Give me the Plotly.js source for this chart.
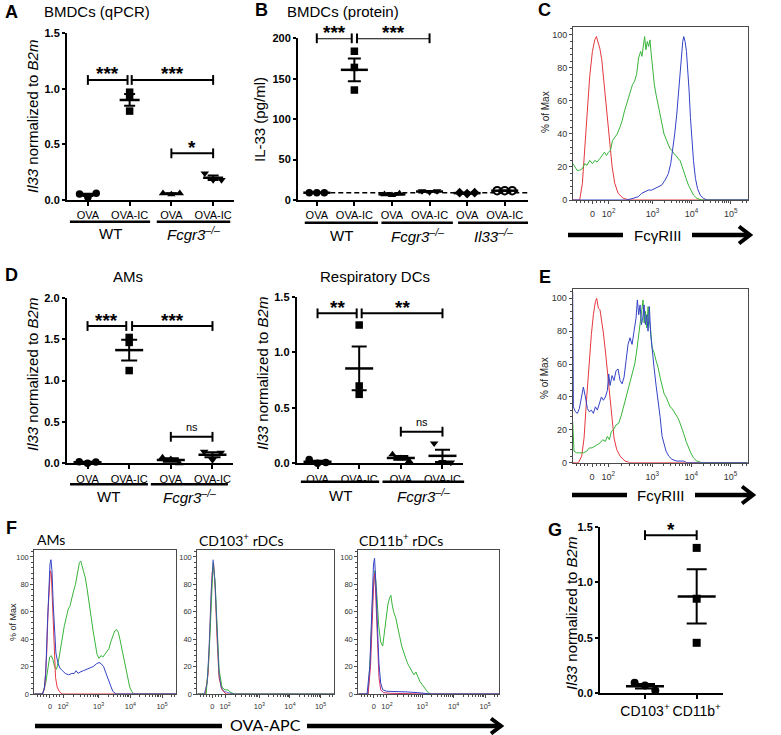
<!DOCTYPE html>
<html><head><meta charset="utf-8">
<script src="https://cdn.plot.ly/plotly-3.0.1.min.js"></script>
<style>html,body{margin:0;padding:0;background:#fff}#chart{width:781px;height:735px}</style>
</head><body><div id="chart"></div>
<script>
// ================= DATA =================
// Panel A – BMDCs (qPCR)
const catsA = ['OVA','OVA-IC','OVA','OVA-IC'];
const groupsA = ['WT','<i>Fcgr3<sup>–/–</sup></i>'];
const pointsA = [[0.055,0.025,0.06],[0.97,0.925,0.80],[0.06,0.05,0.06],[0.24,0.18,0.18]];
const meanA = [0.047,0.90,0.057,0.20];
const semA = [0.01,0.053,0.004,0.02];
const sigA = [[1,1.95,1.08,'***'],[2.05,4,1.08,'***'],[3,4,0.42,'*']];

// Panel B – BMDCs (protein)
const catsB = ['OVA','OVA-IC','OVA','OVA-IC','OVA','OVA-IC'];
const groupsB = ['WT','<i>Fcgr3<sup>–/–</sup></i>','<i>Il33<sup>–/–</sup></i>'];
const pointsB = [[9,9,9],[184,164,136],[7,6,8],[11,10,11],[9,8,9],[11.5,11.5,11.5]];
const meanB = [9,161,7,10.5,8.5,11.5];
const semB = [0.3,14,0.6,0.4,0.4,0.2];
const sigB = [[1,1.93,200,'***'],[2.07,4,200,'***']];
const baselineB = 9;

// Panel D – AMs
const catsD1 = ['OVA','OVA-IC','OVA','OVA-IC'];
const groupsD1 = ['WT','<i>Fcgr3<sup>–/–</sup></i>'];
const pointsD1 = [[0.02,0.0,0.015],[1.52,1.46,1.12],[0.07,0.05,0.0],[0.14,0.04,0.13]];
const meanD1 = [0.012,1.367,0.04,0.103];
const semD1 = [0.006,0.125,0.02,0.03];
const sigD1 = [[1,1.93,1.658,'***'],[2.07,4,1.658,'***'],[3,4,0.32,'ns']];

// Panel D – Respiratory DCs
const catsD2 = ['OVA','OVA-IC','OVA','OVA-IC'];
const groupsD2 = ['WT','<i>Fcgr3<sup>–/–</sup></i>'];
const pointsD2 = [[0.035,0.0,0.008],[1.245,0.696,0.621],[0.08,0.045,0.02],[0.18,0.012,0.008]];
const meanD2 = [0.014,0.854,0.048,0.067];
const semD2 = [0.01,0.197,0.017,0.056];
const sigD2 = [[1,1.94,1.35,'**'],[2.06,4,1.35,'**'],[3,4,0.285,'ns']];

// Panel G
const catsG = ['CD103<sup>+</sup>','CD11b<sup>+</sup>'];
const pointsG = [[0.095,0.07,0.025],[1.31,0.852,0.455]];
const meanG = [0.063,0.873];
const semG = [0.02,0.245];
const sigG = [[1,2,1.425,'*']];

// Flow histogram axis labels (biexponential display units)
const biexTickVals = [1.465,1.88,3,4,5];
const biexTickText = ['0','10<sup>2</sup>','10<sup>3</sup>','10<sup>4</sup>','10<sup>5</sup>'];

// Panel C – FcγRIII (% of Max)
const redC_x = [0.97,1.141,1.209,1.269,1.338,1.397,1.466,1.526,1.568,1.611,1.654,1.705,1.756,1.808,1.859,1.910,1.970,2.038,2.124,2.252,2.423,5.44];
const redC_y = [0,0,10,30,55,75,90,97,99,96,92,85,72,60,47,33,20,10,4,1,0,0];
const greenC_x = [0.970,1.013,1.073,1.141,1.209,1.269,1.329,1.397,1.466,1.526,1.585,1.654,1.714,1.774,1.825,1.876,1.927,1.979,2.038,2.098,2.167,2.226,2.286,2.338,2.389,2.440,2.491,2.543,2.594,2.645,2.697,2.731,2.765,2.799,2.833,2.868,2.902,2.936,2.970,3.004,3.047,3.090,3.141,3.192,3.244,3.295,3.346,3.397,3.449,3.500,3.551,3.603,3.654,3.705,3.756,3.808,3.859,3.919,3.979,4.047,4.132,4.261,5.44];
const greenC_y = [22,20,18,18,19,22,21,24,22,24,23,25,27,29,27,29,30,36,38,40,44,48,54,58,62,66,70,72,76,86,90,87,95,99,91,96,93,97,88,78,70,64,58,52,46,40,37,34,31,30,28,27,25,24,20,16,13,9,6,3,1,0,0];
const blueC_x = [0.97,2.338,2.508,2.637,2.722,2.808,2.893,2.979,3.064,3.150,3.235,3.320,3.406,3.466,3.517,3.568,3.620,3.662,3.705,3.739,3.773,3.799,3.833,3.868,3.902,3.936,3.970,4.004,4.047,4.098,4.150,4.218,4.303,4.389,5.44];
const blueC_y = [0,0,1,2,4,5,6,6,7,8,9,12,16,22,30,40,52,64,76,88,96,99,96,90,80,66,50,36,24,13,7,3,1,0,0];

// Panel E – FcγRIII (% of Max)
const redE_x = [0.97,1.115,1.200,1.260,1.328,1.387,1.447,1.498,1.550,1.583,1.626,1.668,1.711,1.754,1.805,1.856,1.907,1.967,2.026,2.094,2.180,2.307,2.435,5.44];
const redE_y = [0,0,4,15,40,60,78,90,98,100,94,93,87,79,68,56,42,27,15,8,4,1,0,0];
const greenE_x = [0.970,1.004,1.072,1.157,1.243,1.328,1.396,1.464,1.532,1.600,1.668,1.737,1.805,1.856,1.907,1.958,2.009,2.077,2.145,2.214,2.282,2.350,2.418,2.486,2.554,2.605,2.657,2.708,2.742,2.767,2.793,2.827,2.861,2.895,2.929,2.963,2.997,3.048,3.100,3.151,3.202,3.253,3.304,3.355,3.406,3.457,3.508,3.559,3.611,3.662,3.713,3.764,3.815,3.866,3.926,3.985,4.054,4.139,4.267,5.44];
const greenE_y = [25,7,6,6,6,7,9,9,10,11,12,14,13,16,14,19,20,23,24,29,35,42,47,54,60,68,78,88,94,99,85,92,82,95,86,80,70,67,62,58,52,46,42,40,37,34,33,31,29,27,24,21,17,13,9,6,3,1,0,0];
const blueE_x = [0.970,0.987,1.038,1.089,1.140,1.191,1.243,1.294,1.345,1.396,1.447,1.498,1.550,1.600,1.651,1.703,1.754,1.805,1.856,1.890,1.924,1.975,2.026,2.077,2.128,2.180,2.231,2.282,2.333,2.384,2.435,2.486,2.537,2.588,2.622,2.656,2.691,2.725,2.759,2.793,2.827,2.861,2.895,2.929,2.963,2.997,3.048,3.100,3.151,3.202,3.253,3.304,3.355,3.423,3.508,3.628,3.798,3.883,5.44];
const blueE_y = [104,34,31,30,33,40,46,40,33,31,32,30,34,32,36,40,38,40,44,54,47,53,50,56,57,50,48,52,62,72,76,72,80,88,99,90,96,84,88,96,84,90,80,95,78,68,58,47,38,28,16,11,7,4,2,1,1,0,0];

// Panel F – OVA-APC, AMs
const redF1_x = [0.97,1.228,1.300,1.362,1.403,1.444,1.475,1.506,1.537,1.568,1.599,1.640,1.692,1.754,1.846,5.44];
const redF1_y = [0,0,5,30,60,82,90,88,70,45,25,12,5,2,0,0];
const blueF1_x = [0.97,1.228,1.279,1.331,1.383,1.424,1.465,1.496,1.527,1.568,1.609,1.651,1.712,1.774,1.857,1.949,2.053,2.156,2.228,2.290,2.352,2.413,2.516,2.620,2.723,2.826,2.929,3.011,3.084,3.156,3.218,3.290,3.362,3.444,3.547,5.44];
const blueF1_y = [0,0,3,15,50,80,95,98,90,65,42,30,23,19,17,15,14,15,15,17,15,16,17,18,19,20,22,23,22,20,16,11,6,2,0,0];
const greenF1_x = [0.97,1.228,1.331,1.403,1.455,1.506,1.558,1.609,1.671,1.733,1.795,1.857,1.919,1.980,2.042,2.094,2.145,2.207,2.269,2.331,2.393,2.434,2.475,2.516,2.578,2.640,2.702,2.764,2.826,2.887,2.949,3.011,3.073,3.135,3.197,3.259,3.321,3.383,3.444,3.506,3.568,3.620,3.671,3.733,3.795,3.857,3.919,3.980,4.042,4.104,5.44];
const greenF1_y = [0,0,8,20,27,28,25,20,18,24,33,42,50,56,62,64,70,75,80,88,96,97,93,90,85,76,64,56,46,38,29,26,28,27,29,31,33,38,42,46,47,45,40,33,25,18,11,5,2,0,0];

// Panel F – CD103+ rDCs
const redF2_x = [0.97,1.229,1.326,1.390,1.455,1.504,1.552,1.617,1.681,1.778,1.907,5.44];
const redF2_y = [0,0,15,50,88,95,78,40,12,3,0,0];
const greenF2_x = [0.97,1.261,1.358,1.423,1.488,1.552,1.617,1.681,1.778,1.875,1.972,2.069,2.198,5.44];
const greenF2_y = [0,0,30,70,96,82,48,18,5,3,3,1,0,0];
const blueF2_x = [0.97,1.197,1.294,1.358,1.423,1.488,1.552,1.617,1.681,1.746,1.843,1.972,2.166,5.44];
const blueF2_y = [0,0,8,35,75,98,80,45,15,5,2,1,0,0];

// Panel F – CD11b+ rDCs
const redF3_x = [0.97,1.281,1.358,1.423,1.466,1.497,1.541,1.585,1.627,1.682,1.768,1.983,2.413,3.060,5.44];
const redF3_y = [0,0,20,60,85,88,60,30,12,3,1,0.5,0.3,0,0];
const greenF3_x = [0.97,1.281,1.358,1.423,1.497,1.552,1.617,1.682,1.746,1.799,1.853,1.908,1.962,2.005,2.048,2.091,2.155,2.219,2.284,2.349,2.413,2.478,2.543,2.607,2.672,2.737,2.801,2.866,2.931,2.996,3.060,3.125,3.190,3.277,5.44];
const greenF3_y = [0,0,30,70,90,75,50,38,35,45,55,65,70,72,65,60,56,48,42,35,30,26,22,19,17,14,16,12,9,7,5,3,1,0,0];
const blueF3_x = [0.97,1.248,1.336,1.400,1.454,1.487,1.530,1.585,1.627,1.682,1.746,1.876,2.199,2.523,2.847,3.168,3.277,5.44];
const blueF3_y = [0,0,20,65,95,99,80,45,22,8,3,2,2,1.5,1,0.5,0,0];

// ================= STYLE / GEOMETRY =================
const W = 781, H = 735;
const FONT = 'Liberation Sans, Arial, sans-serif';
const FONTF = 'Lato, Open Sans, sans-serif';
const RED = '#e5383f', GREEN = '#38b43a', BLUE = '#3442c6';
const fx = px => px / W;
const fy = py => 1 - py / H;

const AX = {
  A:  {id:'',   x:[67,234],     y:[33.3,200],    xr:[0.5,4.5],   yr:[0,1.5]},
  B:  {id:'2',  x:[298,528],    y:[38.3,200],    xr:[0.5,6.62],  yr:[0,200]},
  C:  {id:'3',  x:[573,748],    y:[27,200],      xr:[0.97,5.44], yr:[0,104.8]},
  D1: {id:'4',  x:[66.7,233.3], y:[297.7,463.3], xr:[0.5,4.5],   yr:[0,2]},
  D2: {id:'5',  x:[296.7,463.3],y:[296.7,463.3], xr:[0.5,4.5],   yr:[0,1.5]},
  E:  {id:'6',  x:[572.7,747.7],y:[289.3,462.7], xr:[0.97,5.44], yr:[0,105.5]},
  F1: {id:'7',  x:[34.3,176],   y:[550,694],     xr:[0.97,5.44], yr:[0,105.1]},
  F2: {id:'8',  x:[197.3,334],  y:[550,694],     xr:[0.97,5.44], yr:[0,105.1]},
  F3: {id:'9',  x:[358.3,499],  y:[550,694],     xr:[0.97,5.44], yr:[0,105.1]},
  G:  {id:'10', x:[600,723.3],  y:[526.8,693.3], xr:[0.13,2.515],yr:[0,1.5]}
};
const pxOf = (k, v) => { const a = AX[k]; return a.x[0] + (v - a.xr[0]) / (a.xr[1] - a.xr[0]) * (a.x[1] - a.x[0]); };

const layout = {width:W, height:H, margin:{l:0,r:0,t:0,b:0}, paper_bgcolor:'#fff', plot_bgcolor:'rgba(0,0,0,0)',
  showlegend:false, annotations:[], shapes:[], hovermode:false};
const traces = [];

function ann(text, px, py, o) {
  layout.annotations.push(Object.assign({text:text, x:fx(px), y:fy(py), xref:'paper', yref:'paper', showarrow:false,
    xanchor:'center', yanchor:'middle', font:{family:FONT, size:15, color:'#000'}}, o || {}));
}
function seg(x0, y0, x1, y1, w) {
  layout.shapes.push({type:'line', xref:'paper', yref:'paper', x0:fx(x0), y0:fy(y0), x1:fx(x1), y1:fy(y1), line:{color:'#000', width:w}});
}
function chevron(tipx, tipy, len, half, w) {
  layout.shapes.push({type:'path', xref:'paper', yref:'paper',
    path:'M'+fx(tipx-len)+','+fy(tipy-half)+' L'+fx(tipx)+','+fy(tipy)+' L'+fx(tipx-len)+','+fy(tipy+half),
    line:{color:'#000', width:w}});
}

const JIT = [-0.2, 0, 0.2];

function scatterPanel(k, c) {
  const a = AX[k], n = a.id;
  layout['xaxis'+n] = {domain:[fx(a.x[0]), fx(a.x[1])], range:a.xr, anchor:'y'+n, showline:true, linewidth:2, linecolor:'#000',
    ticks:'outside', ticklen:4, tickwidth:2, tickcolor:'#000', tickmode:'array', tickvals:c.cats.map((_, i) => i + 1),
    ticktext:c.cats, tickangle:0, tickfont:{family:FONT, size:c.catSize || 11, color:'#000'}, showgrid:false, zeroline:false, fixedrange:true};
  layout['yaxis'+n] = {domain:[fy(a.y[1]), fy(a.y[0])], range:a.yr, anchor:'x'+n, showline:true, linewidth:2, linecolor:'#000',
    ticks:'outside', ticklen:3, tickwidth:2, tickcolor:'#000', tickmode:'linear', tick0:0, dtick:c.dtick, tickformat:c.fmt,
    tickfont:{family:FONT, size:11, color:'#000', weight:'bold'}, showgrid:false, zeroline:false, fixedrange:true};
  c.points.forEach((pts, i) => {
    const sym = c.symbols[i];
    traces.push({type:'scatter', mode:'markers', xaxis:'x'+n, yaxis:'y'+n, cliponaxis:false,
      x:pts.map((_, j) => i + 1 + (c.spread[i] ? JIT[j] : 0)), y:pts,
      marker:{symbol:sym, size:c.msize, color:'#000', line:{width:sym.indexOf('open') >= 0 ? 2 : 0, color:'#000'}}});
  });
  traces.push({type:'scatter', mode:'markers', xaxis:'x'+n, yaxis:'y'+n, cliponaxis:false,
    x:c.means.map((_, i) => i + 1), y:c.means,
    marker:{symbol:'line-ew', size:c.meanLen / 1.4, color:'#000', line:{width:2.5, color:'#000'}},
    error_y:{type:'data', array:c.sem, visible:true, thickness:2, width:c.capHalf, color:'#000'}});
  c.sig.forEach(s => {
    traces.push({type:'scatter', mode:'lines+markers', xaxis:'x'+n, yaxis:'y'+n, cliponaxis:false,
      x:[s[0], s[1]], y:[s[2], s[2]], line:{color:'#000', width:2},
      marker:{symbol:'line-ns', size:7, color:'#000', line:{width:2, color:'#000'}}});
    const isNs = s[3] === 'ns';
    layout.annotations.push({text:s[3], xref:'x'+n, yref:'y'+n, x:(s[0] + s[1]) / 2, y:s[2], showarrow:false,
      xanchor:'center', yanchor:'middle', yshift:isNs ? 10 : 6,
      font:{family:FONT, size:isNs ? 11 : 19, color:'#000', weight:isNs ? 'normal' : 'bold'}});
  });
  (c.groups || []).forEach((g, i) => {
    const sp = c.spans[i];
    seg(pxOf(k, sp[0]), c.lineY, pxOf(k, sp[1]), c.lineY, 2.5);
    ann(g, pxOf(k, (sp[0] + sp[1]) / 2), c.groupY, {font:{family:FONT, size:15, color:'#000'}});
  });
}

const BIEX_MINOR = (() => {
  const v = [1.06, 1.16, 1.26, 1.36, 1.57, 1.67, 1.77];
  for (let k = 2; k <= 9; k++) { v.push(1.88 + 1.12 * Math.log10(k)); v.push(3 + Math.log10(k)); v.push(4 + Math.log10(k)); }
  v.push(5 + Math.log10(2), 5 + Math.log10(2.5));
  return v;
})();

function histPanel(k, curves, fs) {
  const a = AX[k], n = a.id;
  const frame = '#4a4a4a';
  layout['xaxis'+n] = {domain:[fx(a.x[0]), fx(a.x[1])], range:a.xr, anchor:'y'+n, showline:true, mirror:true, linewidth:1, linecolor:frame,
    ticks:'outside', ticklen:3, tickwidth:1, tickcolor:frame, tickmode:'array', tickvals:biexTickVals, ticktext:biexTickText, tickangle:0,
    tickfont:{family:FONT, size:fs, color:'#333'}, ticklabelstandoff:2,
    minor:{tickmode:'array', tickvals:BIEX_MINOR, ticks:'outside', ticklen:2, tickcolor:frame},
    showgrid:false, zeroline:false, fixedrange:true};
  layout['yaxis'+n] = {domain:[fy(a.y[1]), fy(a.y[0])], range:a.yr, anchor:'x'+n, showline:true, mirror:true, linewidth:1, linecolor:frame,
    ticks:'outside', ticklen:3, tickwidth:1, tickcolor:frame, tickmode:'linear', tick0:0, dtick:20,
    minor:{dtick:4, ticks:'outside', ticklen:2, tickcolor:frame},
    tickfont:{family:FONT, size:fs, color:'#333'}, showgrid:false, zeroline:false, fixedrange:true};
  curves.forEach(cv => traces.push({type:'scatter', mode:'lines', xaxis:'x'+n, yaxis:'y'+n, x:cv[0], y:cv[1],
    line:{color:cv[2], width:1}, opacity:cv[3] || 1}));
}

// ================= BUILD =================
scatterPanel('A', {cats:catsA, points:pointsA, means:meanA, sem:semA, sig:sigA,
  symbols:['circle','square','triangle-up','triangle-down'], spread:[1,0,1,1], msize:7.5, meanLen:20, capHalf:5.5,
  dtick:0.5, fmt:'.1f', groups:groupsA, spans:[[0.57,2.49],[2.65,4.41]], lineY:221.7, groupY:233.5});
scatterPanel('B', {cats:catsB, points:pointsB, means:meanB, sem:semB, sig:sigB,
  symbols:['circle','square','triangle-up','triangle-down','diamond','circle-open'], spread:[1,0,1,1,1,1], msize:7.5, meanLen:27, capHalf:6.5,
  dtick:50, fmt:'d', groups:groupsB, spans:[[0.68,2.63],[2.72,4.62],[4.76,6.62]], lineY:222.7, groupY:235});
scatterPanel('D1', {cats:catsD1, points:pointsD1, means:meanD1, sem:semD1, sig:sigD1,
  symbols:['circle','square','triangle-up','triangle-down'], spread:[1,0,1,1], msize:7.5, meanLen:28, capHalf:8,
  dtick:0.5, fmt:'.1f', groups:groupsD1, spans:[[0.58,2.45],[2.52,4.37]], lineY:484.3, groupY:496.7});
scatterPanel('D2', {cats:catsD2, points:pointsD2, means:meanD2, sem:semD2, sig:sigD2,
  symbols:['circle','square','triangle-up','triangle-down'], spread:[1,0,1,1], msize:7.5, meanLen:28, capHalf:7.5,
  dtick:0.5, fmt:'.1f', groups:groupsD2, spans:[[0.6,2.48],[2.56,4.52]], lineY:481.7, groupY:495});
scatterPanel('G', {cats:catsG, points:pointsG, means:meanG, sem:semG, sig:sigG, catSize:14,
  symbols:['circle','square'], spread:[1,0], msize:8, meanLen:38, capHalf:10, dtick:0.5, fmt:'.1f'});

// dashed reference line in B
traces.push({type:'scatter', mode:'lines', xaxis:'x2', yaxis:'y2', cliponaxis:false,
  x:[0.72, AX.B.xr[1]], y:[baselineB, baselineB], line:{color:'#000', width:1.5, dash:'5px,3px'}});

histPanel('C', [[redC_x,redC_y,RED],[greenC_x,greenC_y,GREEN],[blueC_x,blueC_y,BLUE]], 9);
histPanel('E', [[redE_x,redE_y,RED],[greenE_x,greenE_y,GREEN],[blueE_x,blueE_y,BLUE]], 9);
histPanel('F1', [[greenF1_x,greenF1_y,GREEN],[redF1_x,redF1_y,RED],[blueF1_x,blueF1_y,BLUE]], 7.5);
histPanel('F2', [[redF2_x,redF2_y,RED],[greenF2_x,greenF2_y,GREEN],[blueF2_x,blueF2_y,BLUE,0.7]], 7.5);
histPanel('F3', [[greenF3_x,greenF3_y,GREEN],[redF3_x,redF3_y,'#d2306a'],[blueF3_x,blueF3_y,BLUE]], 7.5);

// ================= TEXT =================
const LET = {family:FONT, size:18, color:'#000', weight:'bold'};
ann('A', 3, 12, {xanchor:'left', font:LET});
ann('B', 253, 10, {xanchor:'left', font:LET});
ann('C', 536, 10, {xanchor:'left', font:LET});
ann('D', 3, 275, {xanchor:'left', font:LET});
ann('E', 537, 277, {xanchor:'left', font:LET});
ann('F', 4, 528, {xanchor:'left', font:LET});
ann('G', 546, 530, {xanchor:'left', font:LET});

ann('BMDCs (qPCR)', 42, 12, {xanchor:'left'});
ann('BMDCs (protein)', 285, 12, {xanchor:'left'});
ann('AMs', 128, 277);
ann('Respiratory DCs', 375, 277);

const yTitle = '<i>Il33</i> normalized to <i>B2m</i>';
ann(yTitle, 32, 117, {textangle:-90});
ann('IL-33 (pg/ml)', 260, 120, {textangle:-90});
ann(yTitle, 32, 375, {textangle:-90});
ann(yTitle, 262, 374, {textangle:-90});
ann(yTitle, 571, 614, {textangle:-90});

ann('% of Max', 545, 112, {textangle:-90, font:{family:FONT, size:10, color:'#222'}});
ann('% of Max', 545, 378, {textangle:-90, font:{family:FONT, size:10, color:'#222'}});
ann('% of Max', 13, 622, {textangle:-90, font:{family:FONT, size:9, color:'#222'}});

ann('FcγRIII', 658, 235, {font:{family:FONT, size:15, color:'#000'}});
seg(568, 235, 623, 235, 4.5); seg(692, 235, 749, 235, 4.5); chevron(750, 235, 11, 8.5, 4);
ann('FcγRIII', 661, 495, {font:{family:FONT, size:15, color:'#000'}});
seg(572, 495, 627, 495, 4.5); seg(695, 495, 752, 495, 4.5); chevron(753, 495, 11, 8.5, 4);

ann('AMs', 35, 539, {xanchor:'left', font:{family:FONTF, size:14, color:'#000'}});
ann('CD103<sup>+</sup> rDCs', 197, 539, {xanchor:'left', font:{family:FONTF, size:14, color:'#000'}});
ann('CD11b<sup>+</sup> rDCs', 357, 539, {xanchor:'left', font:{family:FONTF, size:14, color:'#000'}});
ann('OVA-APC', 265, 724, {font:{family:FONTF, size:16, color:'#000'}});
seg(35, 726, 222, 726, 4.5); seg(307, 726, 499, 726, 4.5); chevron(501, 726, 10, 7.5, 4);

Plotly.newPlot('chart', traces, layout, {staticPlot:true, displayModeBar:false});
</script></body></html>
